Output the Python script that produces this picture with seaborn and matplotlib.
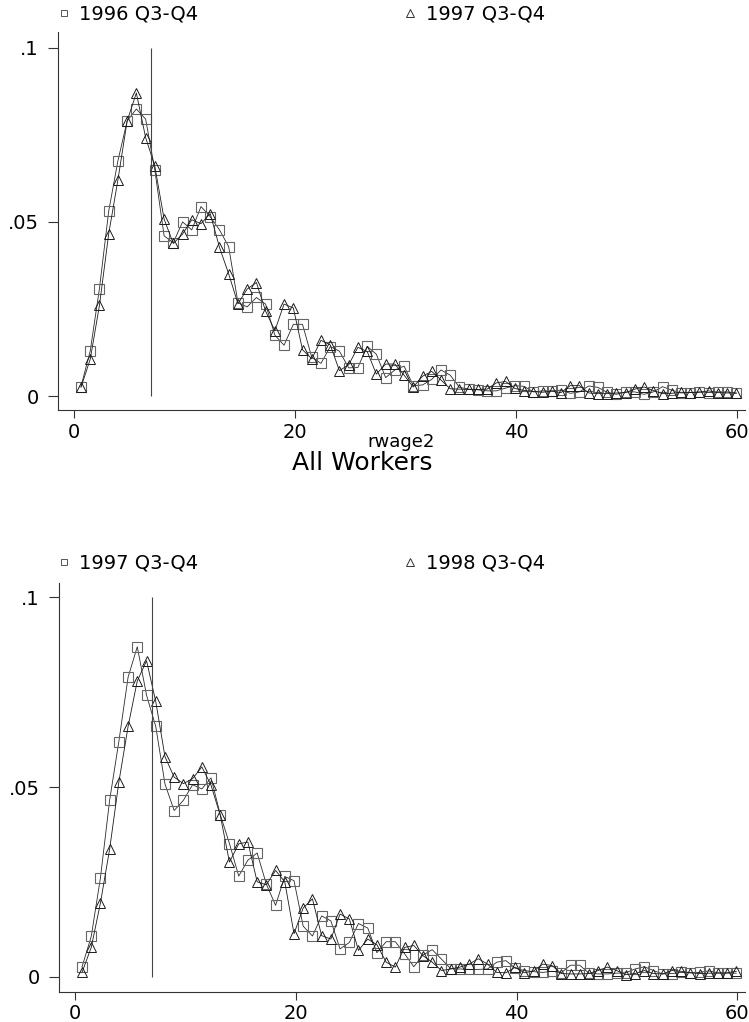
import numpy as np
import pandas as pd
import matplotlib
matplotlib.use("Agg")
import matplotlib.pyplot as plt
from matplotlib.lines import Line2D
import seaborn as sns

# real-wage bins (rwage2)
rwage2 = [0.63, 1.47, 2.30, 3.14, 3.97, 4.81, 5.64, 6.48, 7.31, 8.15,
          8.98, 9.82, 10.65, 11.49, 12.32, 13.16, 13.99, 14.83, 15.66, 16.50,
          17.33, 18.17, 19.00, 19.84, 20.67, 21.51, 22.34, 23.18, 24.01, 24.85,
          25.68, 26.52, 27.35, 28.19, 29.02, 29.86, 30.69, 31.53, 32.36, 33.20,
          34.03, 34.87, 35.70, 36.54, 37.37, 38.21, 39.04, 39.88, 40.71, 41.55,
          42.38, 43.22, 44.05, 44.89, 45.72, 46.56, 47.39, 48.23, 49.06, 49.90,
          50.73, 51.57, 52.40, 53.24, 54.07, 54.91, 55.74, 56.58, 57.41, 58.25,
          59.08, 59.92]

share_1996 = [0.0027, 0.0130, 0.0308, 0.0531, 0.0675, 0.0790, 0.0824, 0.0795, 0.0649, 0.0460,
              0.0440, 0.0500, 0.0477, 0.0544, 0.0515, 0.0477, 0.0429, 0.0268, 0.0256, 0.0283,
              0.0264, 0.0175, 0.0146, 0.0206, 0.0206, 0.0111, 0.0094, 0.0142, 0.0129, 0.0081,
              0.0082, 0.0143, 0.0120, 0.0053, 0.0075, 0.0086, 0.0030, 0.0032, 0.0048, 0.0075,
              0.0060, 0.0025, 0.0020, 0.0018, 0.0015, 0.0015, 0.0023, 0.0030, 0.0028, 0.0012,
              0.0015, 0.0015, 0.0017, 0.0008, 0.0012, 0.0029, 0.0025, 0.0011, 0.0005, 0.0012,
              0.0012, 0.0005, 0.0012, 0.0027, 0.0017, 0.0009, 0.0010, 0.0012, 0.0010, 0.0012,
              0.0012, 0.0008]

share_1997 = [0.0025, 0.0106, 0.0260, 0.0466, 0.0620, 0.0790, 0.0870, 0.0742, 0.0660, 0.0508,
              0.0438, 0.0465, 0.0506, 0.0495, 0.0524, 0.0427, 0.0351, 0.0265, 0.0307, 0.0326,
              0.0244, 0.0188, 0.0264, 0.0253, 0.0133, 0.0107, 0.0160, 0.0147, 0.0073, 0.0090,
              0.0140, 0.0128, 0.0063, 0.0092, 0.0092, 0.0060, 0.0026, 0.0057, 0.0071, 0.0046,
              0.0021, 0.0020, 0.0019, 0.0019, 0.0020, 0.0038, 0.0042, 0.0022, 0.0016, 0.0013,
              0.0011, 0.0014, 0.0010, 0.0030, 0.0030, 0.0009, 0.0007, 0.0007, 0.0009, 0.0010,
              0.0020, 0.0026, 0.0016, 0.0007, 0.0008, 0.0011, 0.0010, 0.0011, 0.0015, 0.0010,
              0.0009, 0.0009]

share_1998 = [0.0011, 0.0077, 0.0194, 0.0337, 0.0513, 0.0660, 0.0780, 0.0833, 0.0726, 0.0580,
              0.0526, 0.0509, 0.0522, 0.0553, 0.0505, 0.0425, 0.0302, 0.0350, 0.0355, 0.0250,
              0.0242, 0.0280, 0.0250, 0.0113, 0.0181, 0.0205, 0.0108, 0.0099, 0.0165, 0.0152,
              0.0069, 0.0099, 0.0084, 0.0038, 0.0025, 0.0077, 0.0082, 0.0055, 0.0038, 0.0016,
              0.0020, 0.0025, 0.0033, 0.0047, 0.0033, 0.0011, 0.0010, 0.0025, 0.0010, 0.0015,
              0.0033, 0.0029, 0.0008, 0.0007, 0.0007, 0.0008, 0.0016, 0.0025, 0.0016, 0.0005,
              0.0008, 0.0016, 0.0008, 0.0007, 0.0016, 0.0014, 0.0010, 0.0008, 0.0009, 0.0009,
              0.0010, 0.0014]

min_wage = 7.0
panels = [("1996 Q3-Q4", share_1996, "1997 Q3-Q4", share_1997),
          ("1997 Q3-Q4", share_1997, "1998 Q3-Q4", share_1998)]

sns.set_style("ticks")
plt.rcParams["font.family"] = ["DejaVu Sans"]
for key in ["text.color", "axes.labelcolor", "xtick.color", "ytick.color"]:
    plt.rcParams[key] = "black"

fig = plt.figure(figsize=(7.49, 10.22), dpi=100)
axes_pos = [[0.0774, 0.5988, 0.9173, 0.3699],
            [0.0788, 0.0296, 0.9159, 0.3999]]
legend_y = [0.986, 0.449]

sq_style = dict(marker="s", markersize=7.5, markerfacecolor="none",
                markeredgecolor="#666666", markeredgewidth=0.8,
                color="#2a2a2a", linewidth=0.6)
tri_style = dict(marker="^", markersize=7, markerfacecolor="none",
                 markeredgecolor="#1a1a1a", markeredgewidth=0.7,
                 color="#1a1a1a", linewidth=0.6)

for i, (lab_a, ya, lab_b, yb) in enumerate(panels):
    ax = fig.add_axes(axes_pos[i])
    df = pd.DataFrame({"rwage2": rwage2, "a": ya, "b": yb})
    sns.lineplot(data=df, x="rwage2", y="a", ax=ax, **sq_style)
    sns.lineplot(data=df, x="rwage2", y="b", ax=ax, **tri_style)
    ax.vlines(min_wage, 0, 0.1, color="#444444", linewidth=0.8)

    ax.set_xlim(-1.45, 60.7)
    ax.set_ylim(-0.004, 0.1045 if i == 0 else 0.1038)
    ax.set_xticks([0, 20, 40, 60])
    ax.set_yticks([0, 0.05, 0.1])
    ax.set_yticklabels(["0", ".05", ".1"])
    ax.set_xlabel("")
    ax.set_ylabel("")
    sns.despine(ax=ax)
    for s in ["left", "bottom"]:
        ax.spines[s].set_linewidth(0.8)
        ax.spines[s].set_color("#333333")
    ax.tick_params(axis="y", length=7, width=0.8, pad=7, labelsize=14, color="#333333")
    ax.tick_params(axis="x", length=6, width=0.8, pad=3, labelsize=14, color="#333333")

    handles = [Line2D([], [], marker="s", markersize=5, markerfacecolor="none",
                      markeredgecolor="#555555", markeredgewidth=0.7, linestyle="none"),
               Line2D([], [], marker="^", markersize=5.5, markerfacecolor="none",
                      markeredgecolor="#333333", markeredgewidth=0.7, linestyle="none")]
    fig.legend(handles, [lab_a, lab_b], ncol=2, loc="center left",
               bbox_to_anchor=(0.077, legend_y[i]), frameon=False,
               fontsize=14, handlelength=0.6, handletextpad=0.5,
               columnspacing=10.6, borderpad=0, borderaxespad=0)

fig.text(401 / 749, 1 - 442 / 1022, "rwage2", ha="center", va="center", fontsize=13)
fig.text(362 / 749, 1 - 463 / 1022, "All Workers", ha="center", va="center", fontsize=18)

fig.savefig("out.png", dpi=100)
